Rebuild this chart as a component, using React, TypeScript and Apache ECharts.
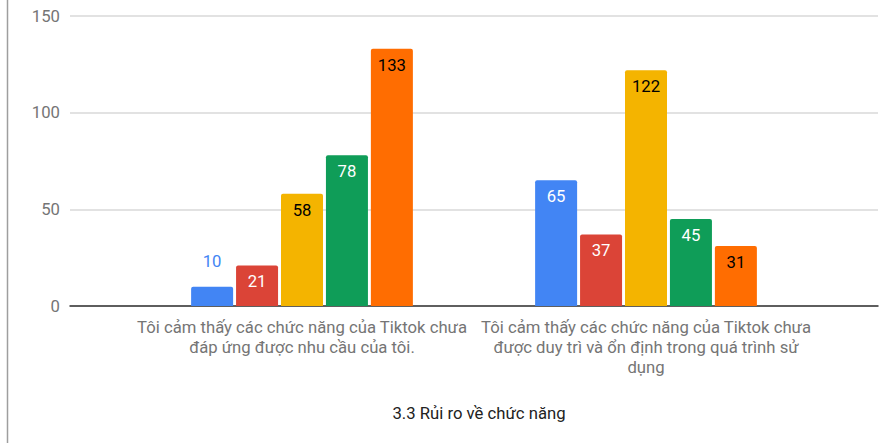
import React, { useEffect, useRef } from "react";
import * as echarts from "echarts";

const categories = [
  "Tôi cảm thấy các chức năng của Tiktok chưa đáp ứng được nhu cầu của tôi.",
  "Tôi cảm thấy các chức năng của Tiktok chưa được duy trì và ổn định trong quá trình sử dụng",
];
const seriesNames = ["Hoàn toàn không đồng ý", "Không đồng ý", "Trung lập", "Đồng ý", "Hoàn toàn đồng ý"];
const seriesValues = [
  [10, 65],
  [21, 37],
  [58, 122],
  [78, 45],
  [133, 31],
];
const seriesColors = ["#4285F4", "#DB4437", "#F4B400", "#0F9D58", "#FF6D01"];
const labelColors = ["#ffffff", "#ffffff", "#000000", "#ffffff", "#000000"];
const yTicks = [0, 50, 100, 150];
const title = "3.3 Rủi ro về chức năng";

const MAX_CHARS = 42;
function wrapWords(text: string): string {
  const words = text.split(" ");
  const lines: string[] = [];
  let cur = "";
  for (const w of words) {
    const next = cur ? cur + " " + w : w;
    if (next.length > MAX_CHARS && cur) {
      lines.push(cur);
      cur = w;
    } else {
      cur = next;
    }
  }
  if (cur) lines.push(cur);
  return lines.join("\n");
}

export default function App() {
  const ref = useRef<HTMLDivElement>(null);
  useEffect(() => {
    if (!ref.current) return;
    const chart = echarts.init(ref.current, null, { renderer: "svg" });
    const font = "Roboto";
    const fs = 16.7;
    const yMin = yTicks[0];
    const yMax = yTicks[yTicks.length - 1];
    const yInterval = yTicks[1] - yTicks[0];
    chart.setOption({
      animation: false,
      textStyle: { fontFamily: font },
      title: {
        text: title,
        left: 474,
        top: 400,
        textAlign: "center",
        textStyle: { fontFamily: font, fontSize: fs, fontWeight: "normal", color: "#222222" },
      },
      graphic: [
        {
          type: "line",
          shape: { x1: 7.5, y1: 0, x2: 7.5, y2: 443 },
          style: { stroke: "#9e9e9e", lineWidth: 1.5 },
        },
      ],
      grid: [
        { left: 70, right: 14, top: 16, bottom: 137 },
        { left: 130, right: 74, top: 16, bottom: 137 },
      ],
      xAxis: [
        {
          type: "category",
          gridIndex: 0,
          data: [""],
          axisLine: { show: true, lineStyle: { color: "#333333", width: 1.5 } },
          axisTick: { show: false },
          axisLabel: { show: false },
        },
        {
          type: "category",
          gridIndex: 1,
          data: categories,
          axisLine: { show: false },
          axisTick: { show: false },
          axisLabel: {
            fontFamily: font,
            fontSize: fs,
            color: "#757575",
            lineHeight: 20,
            margin: 11,
            interval: 0,
            formatter: (v: string) => wrapWords(v),
          },
        },
      ],
      yAxis: [
        {
          type: "value",
          gridIndex: 0,
          min: yMin,
          max: yMax,
          interval: yInterval,
          axisLine: { show: false },
          axisTick: { show: false },
          axisLabel: { fontFamily: font, fontSize: fs, color: "#757575", margin: 10 },
          splitLine: { lineStyle: { color: "#d9d9d9", width: 1.5 } },
        },
        {
          type: "value",
          gridIndex: 1,
          min: yMin,
          max: yMax,
          interval: yInterval,
          show: false,
          splitLine: { show: false },
        },
      ],
      series: seriesNames.map((name, i) => ({
        name,
        type: "bar",
        xAxisIndex: 1,
        yAxisIndex: 1,
        barWidth: 42,
        barGap: "7%",
        itemStyle: { color: seriesColors[i], borderRadius: [2, 2, 0, 0] },
        label: {
          show: true,
          position: "insideTop",
          distance: 8,
          fontFamily: font,
          fontSize: fs,
          color: labelColors[i],
        },
        data: seriesValues[i].map((v) =>
          v < 15
            ? {
                value: v,
                label: { position: "top", distance: 17, color: seriesColors[i] },
              }
            : v
        ),
      })),
    });
    return () => chart.dispose();
  }, []);
  return (
    <div
      ref={ref}
      style={{ position: "fixed", left: 0, top: 0, width: 892, height: 443, background: "#ffffff" }}
    />
  );
}
